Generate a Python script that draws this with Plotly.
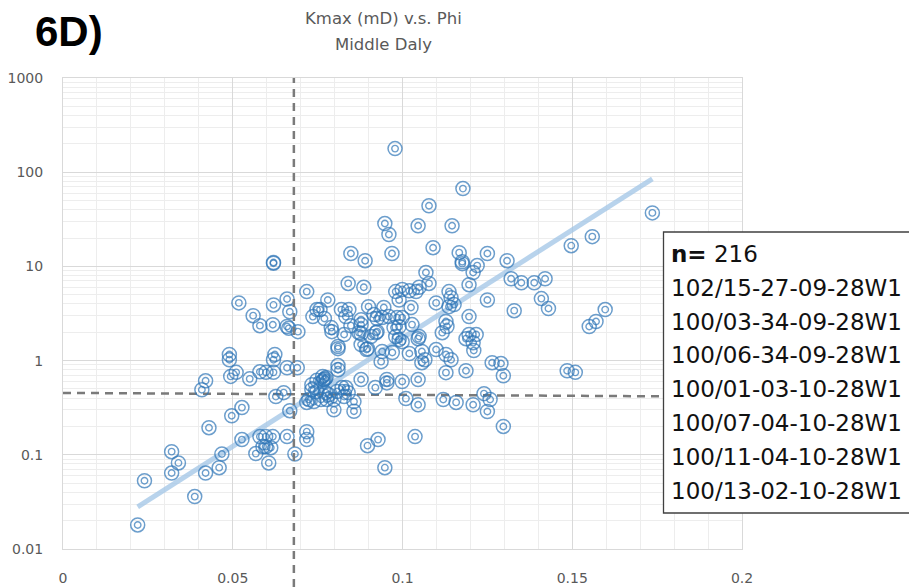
import numpy as np
import plotly.graph_objects as go

# Porosity (fraction) and maximum permeability (mD) for the Middle Daly samples
phi = [
    0.022, 0.024, 0.032, 0.032, 0.034, 0.0388, 0.042, 0.043, 0.046, 0.0468,
    0.0409, 0.042, 0.049, 0.049, 0.0494, 0.051, 0.055, 0.058, 0.0598, 0.062,
    0.066, 0.069, 0.0624, 0.062, 0.0518, 0.062, 0.0668, 0.056, 0.058, 0.066,
    0.0665, 0.0692, 0.066, 0.062, 0.062, 0.0848, 0.084, 0.0718, 0.078, 0.0748,
    0.0757, 0.0736, 0.077, 0.082, 0.0842, 0.0833, 0.079, 0.0886, 0.089, 0.090,
    0.0916, 0.0878, 0.0848, 0.0792, 0.0828, 0.0872, 0.0925, 0.081, 0.081, 0.081,
    0.081, 0.0768, 0.0765, 0.0733, 0.0733, 0.0748, 0.0724, 0.0739, 0.076, 0.0777,
    0.0774, 0.0807, 0.0798, 0.0822, 0.0833, 0.0828, 0.0857, 0.0878, 0.092, 0.0798,
    0.0857, 0.0718, 0.0748, 0.0772, 0.0783, 0.084, 0.0718, 0.0718, 0.0668, 0.0627,
    0.065, 0.0497, 0.0527, 0.0527, 0.058, 0.0597, 0.0618, 0.066, 0.0589, 0.0597,
    0.0612, 0.0568, 0.0606, 0.0683, 0.0978, 0.1178, 0.1078, 0.0948, 0.096, 0.1046,
    0.1146, 0.1736, 0.0969, 0.109, 0.1167, 0.1176, 0.1176, 0.122, 0.1208, 0.125,
    0.1308, 0.1497, 0.1559, 0.1069, 0.1078, 0.098, 0.0999, 0.102, 0.104, 0.1049,
    0.099, 0.1099, 0.1137, 0.1143, 0.1137, 0.1152, 0.1196, 0.132, 0.135, 0.1388,
    0.142, 0.125, 0.1409, 0.143, 0.1329, 0.1196, 0.1597, 0.157, 0.155, 0.1028,
    0.0945, 0.1025, 0.094, 0.096, 0.0984, 0.0999, 0.0975, 0.099, 0.1128, 0.1131,
    0.1117, 0.1049, 0.1196, 0.1217, 0.1208, 0.121, 0.1187, 0.0925, 0.0878, 0.0922,
    0.0907, 0.098, 0.099, 0.0999, 0.1046, 0.0897, 0.0894, 0.094, 0.0937, 0.097,
    0.102, 0.1057, 0.1057, 0.1066, 0.1099, 0.1128, 0.1143, 0.1128, 0.1187, 0.1264,
    0.129, 0.1297, 0.1485, 0.1509, 0.0954, 0.0954, 0.0999, 0.1046, 0.101, 0.1046,
    0.112, 0.1158, 0.124, 0.1258, 0.1208, 0.125, 0.1297, 0.0897, 0.0928, 0.1037,
    0.0948, 0.0878, 0.0878, 0.0765, 0.0775, 0.0618,
]
kmax = [
    0.018, 0.053, 0.108, 0.064, 0.082, 0.036, 0.064, 0.194, 0.073, 0.102,
    0.49, 0.61, 1.16, 1.02, 0.68, 0.75, 0.64, 0.76, 0.75, 0.75,
    0.84, 0.84, 1.16, 1.02, 4.1, 3.9, 3.3, 3.0, 2.35, 2.3,
    2.2, 2.03, 4.5, 11.0, 10.8, 13.7, 6.6, 5.4, 4.4, 3.48,
    3.48, 2.93, 2.8, 3.48, 3.48, 2.93, 2.24, 6.0, 11.5, 3.74,
    3.08, 2.72, 2.35, 2.03, 1.89, 1.98, 2.03, 1.41, 1.34, 0.885,
    0.80, 0.63, 0.68, 0.555, 0.49, 0.47, 0.386, 0.367, 0.386, 0.386,
    0.457, 0.47, 0.386, 0.517, 0.517, 0.415, 0.367, 0.63, 0.517, 0.30,
    0.29, 0.36, 0.62, 0.64, 0.435, 0.457, 0.176, 0.145, 0.294, 0.415,
    0.457, 0.26, 0.317, 0.145, 0.156, 0.156, 0.156, 0.156, 0.122, 0.122,
    0.119, 0.103, 0.082, 0.102, 178, 67, 44, 28.5, 21.8, 27,
    27, 37, 13.7, 15.8, 14, 11.2, 10.7, 10.2, 8.6, 13.7,
    11.5, 16.6, 20.7, 8.6, 6.6, 5.4, 5.7, 5.5, 5.4, 6.0,
    4.4, 4.1, 5.4, 4.66, 3.74, 3.93, 6.4, 7.4, 6.7, 6.7,
    7.4, 4.4, 4.55, 3.57, 3.39, 2.93, 3.48, 2.6, 2.3, 2.41,
    3.66, 3.66, 2.86, 2.93, 2.86, 2.86, 2.24, 2.3, 2.6, 2.3,
    1.98, 1.8, 1.89, 1.89, 1.55, 1.28, 1.71, 2.79, 2.4, 1.98,
    1.8, 1.8, 1.67, 1.59, 1.71, 1.34, 1.31, 1.25, 0.975, 1.22,
    1.19, 1.25, 0.95, 1.02, 1.31, 1.16, 1.02, 0.745, 0.78, 0.95,
    0.93, 0.69, 0.78, 0.75, 0.63, 0.58, 0.60, 0.63, 0.395, 0.34,
    0.386, 0.36, 0.446, 0.386, 0.34, 0.288, 0.20, 0.125, 0.145, 0.156,
    0.073, 1.94, 1.48, 0.60, 0.66, 2.4,
]

# Exponential trendline coefficients: log10(k) = trend_a + trend_b * phi
trend_a = -2.058
trend_b = 22.97

# Cut-off lines
phi_cutoff = 0.068
k_cutoff_start = 0.454   # at phi = 0
k_cutoff_end = 0.413     # at phi = 0.2

x_ticks = [0, 0.05, 0.1, 0.15, 0.2]
x_tick_text = ["0", "0.05", "0.1", "0.15", "0.2"]
y_ticks = [0.01, 0.1, 1, 10, 100, 1000]
y_tick_text = ["0.01", "0.1", "1", "10", "100", "1000"]

wells = [
    "102/15-27-09-28W1",
    "100/03-34-09-28W1",
    "100/06-34-09-28W1",
    "100/01-03-10-28W1",
    "100/07-04-10-28W1",
    "100/11-04-10-28W1",
    "100/13-02-10-28W1",
]

phi_arr = np.array(phi)
trend_x = np.array([phi_arr.min(), phi_arr.max()])
trend_y = 10 ** (trend_a + trend_b * trend_x)

ring = "rgba(46,117,182,0.7)"
dash_grey = "#7a7a7a"

fig = go.Figure()

# horizontal cut-off
fig.add_trace(go.Scatter(
    x=[0, 0.2], y=[k_cutoff_start, k_cutoff_end], mode="lines",
    line=dict(color=dash_grey, width=2.5, dash="8px,6px"),
    hoverinfo="skip",
))

fig.add_trace(go.Scatter(
    x=trend_x, y=trend_y, mode="lines",
    line=dict(color="rgba(160,196,230,0.75)", width=5),
    hoverinfo="skip",
))

# double-ring markers
fig.add_trace(go.Scatter(
    x=phi, y=kmax, mode="markers",
    marker=dict(symbol="circle-open", size=14, color=ring,
                line=dict(width=1.5, color=ring)),
))
fig.add_trace(go.Scatter(
    x=phi, y=kmax, mode="markers",
    marker=dict(symbol="circle-open", size=6.5, color=ring,
                line=dict(width=1.4, color=ring)),
    hoverinfo="skip",
))

# plot area geometry (pixels)
L, R, T, B = 63, 742, 78, 549
W, H = 909, 588
plot_w, plot_h = R - L, B - T


def px_x(px):
    return (px - L) / plot_w


def px_y(py):
    return (B - py) / plot_h


shapes = [
    dict(type="line", xref="x", yref="paper", x0=phi_cutoff, x1=phi_cutoff,
         y0=px_y(587), y1=1.0, line=dict(color=dash_grey, width=2.5, dash="8px,6px"),
         layer="above"),
    dict(type="rect", xref="paper", yref="paper",
         x0=px_x(663.5), x1=px_x(940), y0=px_y(513), y1=px_y(232),
         fillcolor="white", line=dict(color="#404040", width=1.3), layer="above"),
]

annotations = [
    dict(text="<b>6D)</b>", xref="paper", yref="paper", x=px_x(33), y=px_y(31),
         xanchor="left", yanchor="middle", showarrow=False,
         font=dict(family="Liberation Sans", size=42, color="#000000")),
    dict(text="Kmax (mD) v.s. Phi", xref="paper", yref="paper", x=px_x(383), y=px_y(18),
         xanchor="center", yanchor="middle", showarrow=False,
         font=dict(family="DejaVu Sans", size=16.5, color="#595959")),
    dict(text="Middle Daly", xref="paper", yref="paper", x=px_x(383), y=px_y(44),
         xanchor="center", yanchor="middle", showarrow=False,
         font=dict(family="DejaVu Sans", size=16.5, color="#595959")),
]

box_lines = [f"<b>n=</b> {len(phi)}"] + wells
for i, line in enumerate(box_lines):
    annotations.append(dict(
        text=line, xref="paper", yref="paper", x=px_x(669), y=px_y(254 + i * 33.8),
        xanchor="left", yanchor="middle", showarrow=False,
        font=dict(family="DejaVu Sans", size=23, color="#111111"),
    ))

fig.update_layout(
    width=W, height=H, autosize=False,
    margin=dict(l=L, r=W - R, t=T, b=H - B, pad=0, autoexpand=False),
    paper_bgcolor="white", plot_bgcolor="white",
    showlegend=False,
    shapes=shapes,
    annotations=annotations,
)

fig.update_xaxes(
    range=[0, 0.2], tickvals=x_ticks, ticktext=x_tick_text,
    showgrid=True, gridcolor="#d9d9d9", gridwidth=1,
    minor=dict(dtick=0.01, showgrid=True, gridcolor="#ededed", gridwidth=1),
    zeroline=False, showline=True, linecolor="#d9d9d9", mirror=True,
    ticks="", ticklabelstandoff=16, automargin=False,
    tickfont=dict(family="DejaVu Sans", size=14, color="#595959"),
)
fig.update_yaxes(
    type="log", range=[-2, 3], tickvals=y_ticks, ticktext=y_tick_text,
    showgrid=True, gridcolor="#d9d9d9", gridwidth=1,
    minor=dict(dtick="D1", showgrid=True, gridcolor="#ededed", gridwidth=1),
    zeroline=False, showline=True, linecolor="#d9d9d9", mirror=True,
    ticks="", ticklabelstandoff=16, automargin=False,
    tickfont=dict(family="DejaVu Sans", size=14, color="#595959"),
)

fig.write_html("out.html")
